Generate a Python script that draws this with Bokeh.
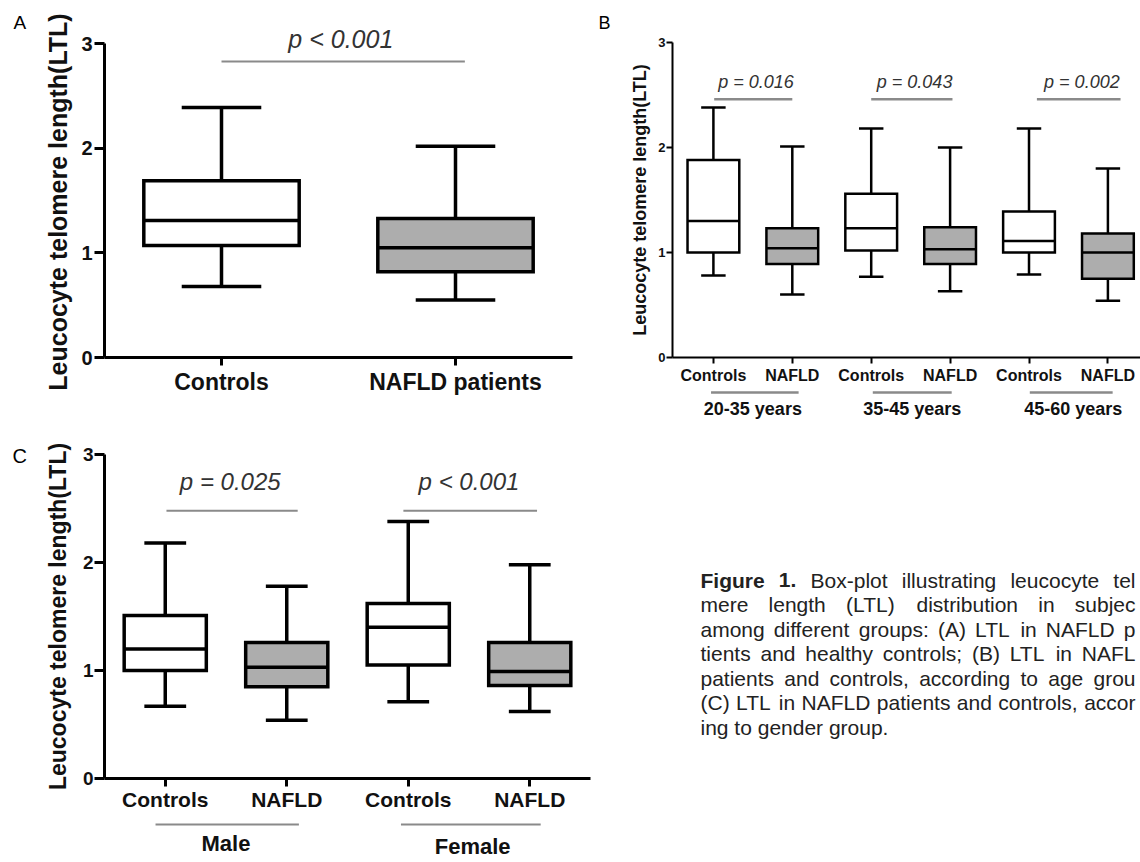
import math
import numpy as np
from bokeh.plotting import figure
from bokeh.models import Range1d, FixedTicker
from bokeh.layouts import row, column
from bokeh.embed import file_html
from bokeh.resources import INLINE
from bokeh.core.properties import value

FONT = "Liberation Sans"
Y_TITLE = "Leucocyte telomere length(LTL)"

# ---------------- data ----------------
y_ticks = [0, 1, 2, 3]

a_categories = ["Controls", "NAFLD patients"]
a_low = [0.68, 0.55]
a_q1 = [1.07, 0.82]
a_median = [1.31, 1.05]
a_q3 = [1.69, 1.33]
a_high = [2.39, 2.02]
a_pvalues = ["p < 0.001"]

b_categories = ["Controls", "NAFLD", "Controls", "NAFLD", "Controls", "NAFLD"]
b_groups = ["20-35 years", "35-45 years", "45-60 years"]
b_low = [0.78, 0.60, 0.77, 0.63, 0.79, 0.54]
b_q1 = [1.00, 0.89, 1.02, 0.89, 1.00, 0.75]
b_median = [1.30, 1.04, 1.23, 1.03, 1.11, 1.00]
b_q3 = [1.88, 1.23, 1.56, 1.24, 1.39, 1.18]
b_high = [2.38, 2.01, 2.18, 2.00, 2.18, 1.80]
b_pvalues = ["p = 0.016", "p = 0.043", "p = 0.002"]

c_categories = ["Controls", "NAFLD", "Controls", "NAFLD"]
c_groups = ["Male", "Female"]
c_low = [0.67, 0.54, 0.71, 0.62]
c_q1 = [1.00, 0.85, 1.05, 0.86]
c_median = [1.20, 1.03, 1.40, 0.99]
c_q3 = [1.51, 1.26, 1.62, 1.26]
c_high = [2.18, 1.78, 2.38, 1.98]
c_pvalues = ["p = 0.025", "p < 0.001"]

panel_letters = ["A", "B", "C"]

caption_lines = [
    "Figure 1. Box-plot illustrating leucocyte tel",
    "mere length (LTL) distribution in subjec",
    "among different groups: (A) LTL in NAFLD p",
    "tients and healthy controls; (B) LTL in NAFL",
    "patients and controls, according to age grou",
    "(C) LTL in NAFLD patients and controls, accor",
    "ing to gender group.",
]

# ---------------- styles ----------------
GRAY_FILL = "#adadad"
GRAY_LINE = "#8a8a8a"
P_COLOR = "#333333"
TXT = "#111111"


def blank(width, height, xr, yr):
    f = figure(width=width, height=height, x_range=xr, y_range=yr,
               output_backend="svg", toolbar_location=None,
               x_axis_location=None, y_axis_location=None,
               min_border_left=0, min_border_right=0, min_border_top=0, min_border_bottom=0)
    f.outline_line_color = None
    f.grid.visible = False
    return f


def letter_fig(letter, width, height, x, ymid, size, title=None):
    f = blank(width, height, Range1d(0, width), Range1d(height, 0))
    f.text(x=[x], y=[ymid], text=[letter], text_font=value(FONT), text_font_size=size,
           text_color="black", text_align="left", text_baseline="middle")
    if title is not None:
        t_text, tx, ty, tsize = title
        f.text(x=[tx], y=[ty], text=[t_text], angle=math.pi / 2,
               text_font=value(FONT), text_font_style="bold", text_font_size=tsize,
               text_color=TXT, text_align="center", text_baseline="middle")
    return f


def box_panel(cats, low, q1, med, q3, high, pvals, st):
    n = len(cats)
    x = np.arange(1, n + 1, dtype=float)
    low, q1, med, q3, high = map(np.asarray, (low, q1, med, q3, high))
    p = figure(width=st["w"], height=st["h"],
               x_range=Range1d(st["x0"], st["x1"]), y_range=Range1d(0, st["y1"]),
               output_backend="svg", toolbar_location=None,
               min_border_left=st["bl"], min_border_right=st["br"],
               min_border_top=st["bt"], min_border_bottom=st["bb"])
    p.outline_line_color = None
    p.grid.visible = False
    fills = ["white" if c.startswith("Controls") else GRAY_FILL for c in cats]
    lw = st["lw"]
    bw, cw = st["box_w"], st["cap_w"]
    kw = dict(line_color="black", line_width=lw, line_cap="butt")
    p.segment(x0=x, x1=x, y0=q3, y1=high, **kw)
    p.segment(x0=x, x1=x, y0=low, y1=q1, **kw)
    p.segment(x0=x - cw / 2, x1=x + cw / 2, y0=high, y1=high, **kw)
    p.segment(x0=x - cw / 2, x1=x + cw / 2, y0=low, y1=low, **kw)
    p.vbar(x=x, width=bw, bottom=q1, top=q3, fill_color=fills,
           line_color="black", line_width=lw, line_join="miter")
    p.segment(x0=x - bw / 2, x1=x + bw / 2, y0=med, y1=med, **kw)

    # significance brackets
    bx0 = [b[0] for b in st["brackets"]]
    bx1 = [b[1] for b in st["brackets"]]
    p.segment(x0=bx0, x1=bx1, y0=[st["bracket_y"]] * len(bx0), y1=[st["bracket_y"]] * len(bx0),
              line_color=GRAY_LINE, line_width=st["blw"])
    p.text(x=st["ptext_x"], y=[st["ptext_y"]] * len(pvals), text=pvals,
           text_font=value(FONT), text_font_style="italic", text_font_size=st["pfs"],
           text_color=P_COLOR, text_align="center", text_baseline="middle")

    xa = p.xaxis[0]
    ya = p.yaxis[0]
    xa.ticker = FixedTicker(ticks=list(x))
    xa.major_label_overrides = {i + 1: c for i, c in enumerate(cats)}
    xa.bounds = (st["x0"], st["xb"])
    ya.ticker = FixedTicker(ticks=y_ticks)
    ya.bounds = (0, 3)
    for ax in (xa, ya):
        ax.axis_line_width = st["alw"]
        ax.axis_line_color = "black"
        ax.major_tick_line_width = st["alw"]
        ax.major_tick_line_color = "black"
        ax.major_tick_in = 0
        ax.minor_tick_line_color = None
        ax.major_label_text_font = FONT
        ax.major_label_text_font_style = "bold"
        ax.major_label_text_color = TXT
    xa.major_tick_out = st["xto"]
    ya.major_tick_out = st["yto"]
    xa.major_label_text_font_size = st["xfs"]
    ya.major_label_text_font_size = st["yfs"]
    xa.major_label_standoff = st["xls"]
    ya.major_label_standoff = st["yls"]
    if st.get("tfs"):
        ya.axis_label = Y_TITLE
        ya.axis_label_text_font = FONT
        ya.axis_label_text_font_style = "bold"
        ya.axis_label_text_font_size = st["tfs"]
        ya.axis_label_text_color = TXT
        ya.axis_label_standoff = st["tls"]
    return p


def group_strip(x_range, groups, st):
    s = blank(st["w"], st["h"], x_range, Range1d(st["h"], 0))
    s.min_border_left = st["bl"]
    s.min_border_right = st["br"]
    sx0 = [g[0] for g in st["spans"]]
    sx1 = [g[1] for g in st["spans"]]
    s.segment(x0=sx0, x1=sx1, y0=[st["line_y"]] * len(sx0), y1=[st["line_y"]] * len(sx0),
              line_color=GRAY_LINE, line_width=st["lw"])
    s.text(x=st["label_x"], y=st["label_y"], text=groups,
           text_font=value(FONT), text_font_style="bold", text_font_size=st["fs"],
           text_color=TXT, text_align="center", text_baseline="middle")
    return s


# ---------------- panel A ----------------
A = dict(w=514, h=422, bl=28, br=18, bt=12, bb=65,
         x0=0.5, x1=2.5, xb=2.5, y1=3.299,
         box_w=0.664, cap_w=0.34, lw=3.5, alw=3,
         brackets=[(1.0, 2.04)], bracket_y=2.83, blw=2,
         ptext_x=[1.51], ptext_y=3.05, pfs="25px",
         xto=8, yto=10, xfs="23px", yfs="20px", xls=3, yls=2)
pa = box_panel(a_categories, a_low, a_q1, a_median, a_q3, a_high, a_pvalues, A)
la = letter_fig(panel_letters[0], 76, 422, 13, 21.5, "19px", title=(Y_TITLE, 57, 201.5, "25px"))

# ---------------- panel B ----------------
B = dict(w=518, h=390, bl=50, br=0, bt=42, bb=33,
         x0=0.4816, x1=6.413, xb=6.413, y1=3.0,
         box_w=0.656, cap_w=0.31, lw=2.5, alw=2,
         brackets=[(1.01, 2.0), (3.0, 4.03), (5.1, 6.16)], bracket_y=2.46, blw=2.5,
         ptext_x=[1.54, 3.55, 5.67], ptext_y=2.62, pfs="18px",
         xto=6, yto=6, xfs="16px", yfs="13px", xls=3, yls=1,
         tfs="18px", tls=5)
pb = box_panel(b_categories, b_low, b_q1, b_median, b_q3, b_high, b_pvalues, B)
SB = dict(w=518, h=32, bl=50, br=0, lw=2.5, line_y=2,
          spans=[(0.97, 2.08), (3.02, 4.02), (5.01, 6.06)],
          label_x=[1.5, 3.52, 5.56], label_y=[18.8, 18.8, 18.8], fs="18px")
sb = group_strip(pb.x_range, b_groups, SB)
lb = letter_fig(panel_letters[1], 32, 422, 8, 22, "18px")

# ---------------- panel C ----------------
C = dict(w=570, h=394, bl=74, br=10, bt=32, bb=38,
         x0=0.5, x1=4.5, xb=4.5, y1=3.0,
         box_w=0.676, cap_w=0.344, lw=3.5, alw=3,
         brackets=[(1.01, 2.09), (2.96, 4.06)], bracket_y=2.48, blw=2,
         ptext_x=[1.535, 3.5], ptext_y=2.75, pfs="24px",
         xto=8, yto=10, xfs="21px", yfs="19px", xls=1, yls=1,
         tfs="23px", tls=9)
pc = box_panel(c_categories, c_low, c_q1, c_median, c_q3, c_high, c_pvalues, C)
SC = dict(w=570, h=46, bl=74, br=10, lw=2, line_y=8,
          spans=[(0.92, 2.10), (2.94, 4.09)],
          label_x=[1.5, 3.53], label_y=[27.4, 30.4], fs="22px")
sc = group_strip(pc.x_range, c_groups, SC)
lc = letter_fig(panel_letters[2], 30, 440, 12, 33, "20px")

# ---------------- caption ----------------
CAP_W, CAP_H = 540, 440
CAP_LEFT, CAP_RIGHT = 100, 535
CAP_FS = 21
CAP_MID0, CAP_LEAD = 157.7, 24.5

AR = {" ": 278, "(": 333, ")": 333, ",": 278, "-": 333, ".": 278, ":": 278, ";": 278,
      "A": 667, "B": 667, "C": 722, "D": 722, "F": 611, "L": 556, "N": 722, "T": 611,
      "a": 556, "b": 556, "c": 500, "d": 556, "e": 556, "f": 278, "g": 556, "h": 556,
      "i": 222, "j": 222, "l": 222, "m": 833, "n": 556, "o": 556, "p": 556, "r": 333,
      "s": 500, "t": 278, "u": 556, "x": 500, "y": 500}
ARB = {" ": 278, ".": 278, "1": 556, "F": 611, "i": 278, "g": 611, "u": 611, "r": 389, "e": 556}


def tw(s, bold):
    table = ARB if bold else AR
    return sum(table.get(ch, 556) for ch in s) * CAP_FS / 1000.0


cap = blank(CAP_W, CAP_H, Range1d(0, CAP_W), Range1d(CAP_H, 0))

reg = dict(x=[], y=[], t=[])
bld = dict(x=[], y=[], t=[])
for li, line in enumerate(caption_lines):
    words = line.split(" ")
    flags = [li == 0 and wi < 2 for wi in range(len(words))]
    widths = [tw(w, b) for w, b in zip(words, flags)]
    if li < len(caption_lines) - 1:
        gap = (CAP_RIGHT - CAP_LEFT - sum(widths)) / (len(words) - 1)
    else:
        gap = tw(" ", False)
    xpos = CAP_LEFT
    ypos = CAP_MID0 + li * CAP_LEAD
    for w, wd, b in zip(words, widths, flags):
        d = bld if b else reg
        d["x"].append(xpos)
        d["y"].append(ypos)
        d["t"].append(w)
        xpos += wd + gap

cap.text(x=reg["x"], y=reg["y"], text=reg["t"], text_font=value(FONT), text_font_size=f"{CAP_FS}px",
         text_color="#222222", text_align="left", text_baseline="middle")
cap.text(x=bld["x"], y=bld["y"], text=bld["t"], text_font=value(FONT), text_font_style="bold",
         text_font_size=f"{CAP_FS}px", text_color="#222222", text_align="left", text_baseline="middle")

layout = column(row(la, column(pa), lb, column(pb, sb)), row(lc, column(pc, sc), cap))

open("out.html", "w").write(file_html(layout, INLINE))
